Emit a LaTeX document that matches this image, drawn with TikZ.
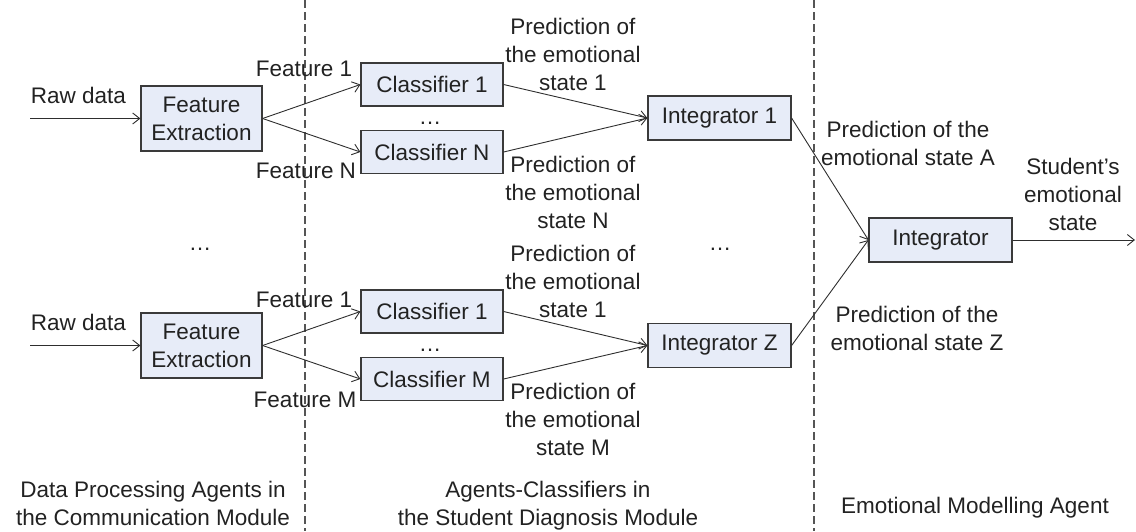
\documentclass[tikz,border=0pt]{standalone}
\usepackage{fontspec}
\setmainfont{Liberation Sans}
\usetikzlibrary{arrows.meta}
\definecolor{boxfill}{HTML}{E7ECF8}
\definecolor{boxline}{HTML}{3A3A3A}
\definecolor{txt}{HTML}{222222}
\definecolor{wire}{HTML}{2E2E2E}
\definecolor{divline}{HTML}{555555}
\begin{document}
\begin{tikzpicture}[x=1pt,y=-1pt,
  every node/.style={inner sep=0pt, text=txt, font=\fontsize{22.5}{28}\selectfont},
  box/.style={draw=boxline, fill=boxfill, line width=1.2pt, align=center},
  febox/.style={box, minimum width=121pt, minimum height=65pt},
  clbox/.style={box, minimum width=142pt, minimum height=43pt},
  inbox/.style={box, minimum width=143pt, minimum height=44pt},
  lbl/.style={align=center, anchor=base},
  flow/.style={draw=wire, line width=0.9pt, -{Straight Barb[length=7pt,width=11pt]}},
  divider/.style={draw=divline, line width=1.1pt, dash pattern=on 8pt off 4pt}]
\useasboundingbox (0,0) rectangle (1136,531);

% column dividers
\coordinate (d1t) at (305,0);  \coordinate (d1b) at (305,531);
\coordinate (d2t) at (814,0);  \coordinate (d2b) at (814,531);
\draw[divider] (d1t) -- (d1b);
\draw[divider] (d2t) -- (d2b);

% upper chain
\node[febox] (fe1) at (201.5,118.5) {Feature\\Extraction};
\node[clbox] (c11) at (432,84.5) {Classifier 1};
\node[clbox] (c1n) at (432,152) {Classifier N};
\node[inbox] (i1) at (719.5,118) {Integrator 1};

% lower chain
\node[febox] (fe2) at (201.5,345.5) {Feature\\Extraction};
\node[clbox] (c21) at (432,311.5) {Classifier 1};
\node[clbox] (c2m) at (432,379) {Classifier M};
\node[inbox] (iz) at (719.5,345.5) {Integrator Z};

% final integrator
\node[inbox] (ig) at (940.5,240) {Integrator};

% free ends
\coordinate (raw1) at (30,118.5);
\coordinate (raw2) at (30,345.5);
\coordinate (out) at (1135,240);

% connectors
\draw[flow] (raw1) -- (fe1.west);
\draw[flow] (fe1.east) -- (c11.west);
\draw[flow] (fe1.east) -- (c1n.west);
\draw[flow] (c11.east) -- (i1.west);
\draw[flow] (c1n.east) -- (i1.west);
\draw[flow] (raw2) -- (fe2.west);
\draw[flow] (fe2.east) -- (c21.west);
\draw[flow] (fe2.east) -- (c2m.west);
\draw[flow] (c21.east) -- (iz.west);
\draw[flow] (c2m.east) -- (iz.west);
\draw[flow] (i1.east) -- (ig.west);
\draw[flow] (iz.east) -- (ig.west);
\draw[flow] (ig.east) -- (out);

% labels (anchored at the baseline of their last line)
\node[lbl] (rd1) at (78.5,103) {Raw data};
\node[lbl] (rd2) at (78.5,330) {Raw data};
\node[lbl] (f11) at (304,76) {Feature 1};
\node[lbl] (f1n) at (306,178) {Feature N};
\node[lbl] (f21) at (304,307) {Feature 1};
\node[lbl] (f2m) at (305,407) {Feature M};

\node[lbl] (p11) at (573,90) {Prediction of\\the emotional\\state 1};
\node[lbl] (p1n) at (573,228) {Prediction of\\the emotional\\state N};
\node[lbl] (p21) at (573,317) {Prediction of\\the emotional\\state 1};
\node[lbl] (p2m) at (573,455) {Prediction of\\the emotional\\state M};

\node[lbl] (pa) at (908,165) {Prediction of the\\emotional state A};
\node[lbl] (pz) at (917,350) {Prediction of the\\emotional state Z};
\node[lbl] (st) at (1073,230) {Student's\\emotional\\state};

\node[lbl] (dt1) at (430,124) {…};
\node[lbl] (dt2) at (430,351) {…};
\node[lbl] (dt3) at (200,250) {…};
\node[lbl] (dt4) at (720,250) {…};

\node[lbl] (m1) at (153,525) {Data Processing Agents in\\the Communication Module};
\node[lbl] (m2) at (548,525) {Agents-Classifiers in\\the Student Diagnosis Module};
\node[lbl] (m3) at (975,513) {Emotional Modelling Agent};
\end{tikzpicture}
\end{document}
